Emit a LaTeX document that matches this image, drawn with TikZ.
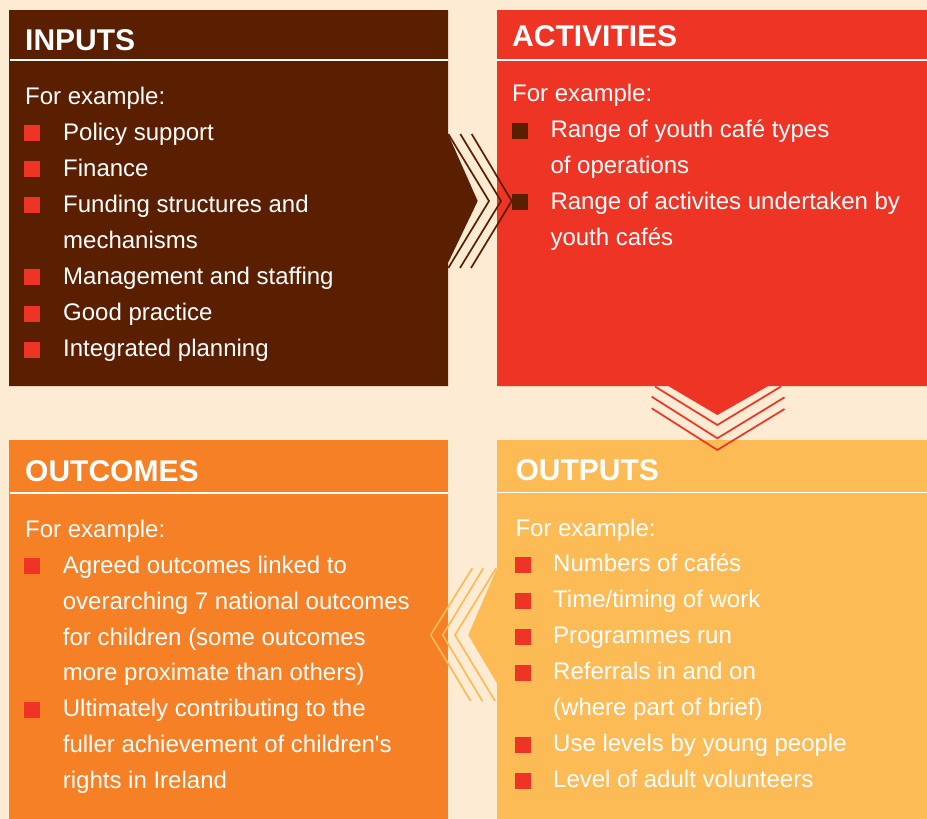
\documentclass[tikz,border=0pt]{standalone}
\usepackage{fontspec}
\setmainfont{Liberation Sans}[Ligatures=TeXOff]
\definecolor{cream}{HTML}{FDEBD3}
\definecolor{brownbox}{HTML}{5A1F00}
\definecolor{redbox}{HTML}{EE3424}
\definecolor{orangebox}{HTML}{F58026}
\definecolor{lightbox}{HTML}{FDBB55}
\tikzset{
  hdr/.style={anchor=base west, inner sep=0pt, text=white, font=\fontsize{30}{36}\selectfont\bfseries},
  txt/.style={anchor=base west, inner sep=0pt, text=white, font=\fontsize{24}{36}\selectfont},
  bul/.style={minimum size=16pt, inner sep=0pt, fill=#1},
  sep/.style={draw=white, line width=1.2pt},
  stripe/.style={draw=#1, line width=1.7pt, line join=miter},
}
\begin{document}
\begin{tikzpicture}[x=1pt,y=-1pt]
\useasboundingbox (0,0) rectangle (927,819);
\fill[cream] (0,0) rectangle (927,819);

% boxes
\fill[brownbox] (9,10) -- (448,10) -- (448,134) -- (477.7,201) -- (448,263) -- (448,386) -- (9,386) -- cycle;
\fill[redbox] (497,10) -- (927,10) -- (927,386) -- (768.3,386) -- (717.3,415) -- (668.3,386) -- (497,386) -- cycle;
\fill[orangebox] (9,440) rectangle (448,819);
\fill[lightbox] (497,440) -- (927,440) -- (927,819) -- (497,819) -- (497,683.5) -- (468.3,635) -- (497,568) -- cycle;

% chevron stripes
\coordinate (c1a) at (448.3,134); \coordinate (c1b) at (489,201); \coordinate (c1c) at (448.3,268);
\coordinate (c2a) at (460.3,134); \coordinate (c2b) at (501,201); \coordinate (c2c) at (460,268);
\coordinate (c3a) at (471.7,134); \coordinate (c3b) at (511.7,201); \coordinate (c3c) at (471,268);
\draw[stripe=brownbox] (c1a) -- (c1b) -- (c1c);
\draw[stripe=brownbox] (c2a) -- (c2b) -- (c2c);
\draw[stripe=brownbox] (c3a) -- (c3b) -- (c3c);

\coordinate (d1a) at (655,386.5); \coordinate (d1b) at (717.3,425); \coordinate (d1c) at (781,386.5);
\coordinate (d2a) at (651.7,396.7); \coordinate (d2b) at (717.3,438.3); \coordinate (d2c) at (784.5,397.3);
\coordinate (d3a) at (651.7,408.3); \coordinate (d3b) at (717.3,450); \coordinate (d3c) at (784.5,409);
\draw[stripe=redbox] (d1a) -- (d1b) -- (d1c);
\draw[stripe=redbox] (d2a) -- (d2b) -- (d2c);
\draw[stripe=redbox] (d3a) -- (d3b) -- (d3c);

\coordinate (e1a) at (496,568.3); \coordinate (e1b) at (455,635); \coordinate (e1c) at (495,701);
\coordinate (e2a) at (483.3,568.3); \coordinate (e2b) at (442.7,635); \coordinate (e2c) at (482.3,701);
\coordinate (e3a) at (472.3,568.3); \coordinate (e3b) at (430.7,635); \coordinate (e3c) at (470.7,701);
\draw[stripe=lightbox] (e1a) -- (e1b) -- (e1c);
\draw[stripe=lightbox] (e2a) -- (e2b) -- (e2c);
\draw[stripe=lightbox] (e3a) -- (e3b) -- (e3c);

% separators
\coordinate (s1a) at (10,60); \coordinate (s1b) at (448,60);
\coordinate (s2a) at (497,60); \coordinate (s2b) at (927,60);
\coordinate (s3a) at (10,493); \coordinate (s3b) at (448,493);
\coordinate (s4a) at (497,492.7); \coordinate (s4b) at (927,492.7);
\draw[sep] (s1a) -- (s1b);
\draw[sep] (s2a) -- (s2b);
\draw[sep] (s3a) -- (s3b);
\draw[sep] (s4a) -- (s4b);

% headers
\node[hdr] (hin) at (25,50) {INPUTS};
\node[hdr] (hact) at (512,46) {ACTIVITIES};
\node[hdr] (hout) at (25,481.7) {OUTCOMES};
\node[hdr] (hop) at (515.3,480.7) {OUTPUTS};

% INPUTS
\node[txt] (i0) at (25,104) {For example:};
\node[bul=redbox] (ib1) at (32,133) {};
\node[txt] (i1) at (63,140) {Policy support};
\node[bul=redbox] (ib2) at (32,169) {};
\node[txt] (i2) at (63,176) {Finance};
\node[bul=redbox] (ib3) at (32,205) {};
\node[txt] (i3) at (63,212) {Funding structures and};
\node[txt] (i3b) at (63,248) {mechanisms};
\node[bul=redbox] (ib4) at (32,277) {};
\node[txt] (i4) at (63,284) {Management and staffing};
\node[bul=redbox] (ib5) at (32,313.5) {};
\node[txt] (i5) at (63,320.5) {Good practice};
\node[bul=redbox] (ib6) at (32,349.5) {};
\node[txt] (i6) at (63,356.5) {Integrated planning};

% ACTIVITIES
\node[txt] (a0) at (512,101.7) {For example:};
\node[bul=brownbox] (ab1) at (520,130.8) {};
\node[txt] (a1) at (550.3,137.7) {Range of youth café types};
\node[txt] (a1b) at (550.3,173.2) {of operations};
\node[bul=brownbox] (ab2) at (520,202.2) {};
\node[txt] (a2) at (550.3,209.2) {Range of activites undertaken by};
\node[txt] (a2b) at (550.3,245) {youth cafés};

% OUTPUTS
\node[txt] (o0) at (515.3,536) {For example:};
\node[bul=redbox] (ob1) at (523,565) {};
\node[txt] (o1) at (553,571.7) {Numbers of cafés};
\node[bul=redbox] (ob2) at (523,601) {};
\node[txt] (o2) at (553,607.7) {Time/timing of work};
\node[bul=redbox] (ob3) at (523,636.6) {};
\node[txt] (o3) at (553,643.3) {Programmes run};
\node[bul=redbox] (ob4) at (523,672.6) {};
\node[txt] (o4) at (553,679.3) {Referrals in and on};
\node[txt] (o4b) at (553,715.7) {(where part of brief)};
\node[bul=redbox] (ob5) at (523,745) {};
\node[txt] (o5) at (553,751.7) {Use levels by young people};
\node[bul=redbox] (ob6) at (523,780.6) {};
\node[txt] (o6) at (553,787.3) {Level of adult volunteers};

% OUTCOMES
\node[txt] (u0) at (25,537.3) {For example:};
\node[bul=redbox] (ub1) at (32,566.3) {};
\node[txt] (u1) at (62.7,573.3) {Agreed outcomes linked to};
\node[txt] (u1b) at (62.7,609) {overarching 7 national outcomes};
\node[txt] (u1c) at (62.7,645) {for children (some outcomes};
\node[txt] (u1d) at (62.7,680.7) {more proximate than others)};
\node[bul=redbox] (ub2) at (32,709.7) {};
\node[txt] (u2) at (62.7,716.7) {Ultimately contributing to the};
\node[txt] (u2b) at (62.7,752.7) {fuller achievement of children's};
\node[txt] (u2c) at (62.7,788.3) {rights in Ireland};
\end{tikzpicture}
\end{document}
